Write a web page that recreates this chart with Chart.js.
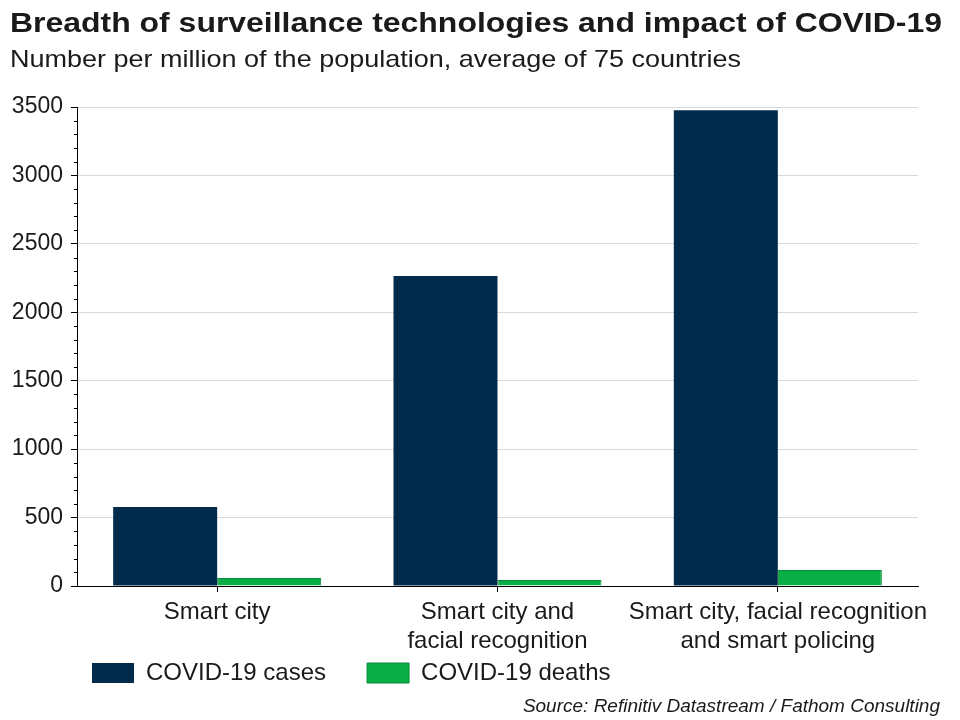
<!DOCTYPE html>
<html>
<head>
<meta charset="utf-8">
<script src="https://cdn.jsdelivr.net/npm/chart.js@4.4.1/dist/chart.umd.min.js"></script>
<style>
  html, body { margin: 0; padding: 0; background: #fff; }
  #wrap { position: relative; width: 960px; height: 720px; overflow: hidden; font-family: "Liberation Sans", Arial, sans-serif; color: #1a1a1a; }
  .txt { position: absolute; white-space: nowrap; line-height: 1; transform-origin: 0 0; }
  #title { left: 10px; top: 9px; font-size: 28px; font-weight: bold; }
  #subtitle { left: 10px; top: 47px; font-size: 24px; }
  #source { right: 20px; top: 696px; font-size: 19px; font-style: italic; }
  #c { position: absolute; left: 0; top: 0; }
</style>
</head>
<body>
<div id="wrap">
  <canvas id="c" width="960" height="720"></canvas>
  <div id="title" class="txt" data-w="932">Breadth of surveillance technologies and impact of COVID-19</div>
  <div id="subtitle" class="txt" data-w="731">Number per million of the population, average of 75 countries</div>
  <div id="source" class="txt">Source: Refinitiv Datastream / Fathom Consulting</div>
</div>
<script>
const categories = [
  ["Smart city"],
  ["Smart city and", "facial recognition"],
  ["Smart city, facial recognition", "and smart policing"]
];
const seriesNames = ["COVID-19 cases", "COVID-19 deaths"];
const casesValues = [577, 2265, 3477];
const deathsValues = [58, 44, 117];
const yTicks = [0, 500, 1000, 1500, 2000, 2500, 3000, 3500];

// the reference headings are horizontally stretched; match their width
document.querySelectorAll('[data-w]').forEach(el => {
  const target = +el.dataset.w;
  const w = el.getBoundingClientRect().width;
  if (w > 0) el.style.transform = 'scaleX(' + (target / w) + ')';
});

const minorTicks = {
  id: 'minorTicks',
  afterDraw(chart) {
    const y = chart.scales.y;
    const ctx = chart.ctx;
    const x0 = chart.chartArea.left;
    ctx.save();
    ctx.strokeStyle = '#000';
    ctx.lineWidth = 1;
    for (let v = 100; v < 3500; v += 100) {
      if (v % 500 === 0) continue;
      const py = Math.round(y.getPixelForValue(v)) + 0.5;
      ctx.beginPath();
      ctx.moveTo(x0 - 3, py);
      ctx.lineTo(x0, py);
      ctx.stroke();
    }
    ctx.restore();
  }
};

// place the legend row under the axis labels, starting at the left like the reference
const legendPlace = {
  id: 'legendPlace',
  afterLayout(chart) {
    const lg = chart.legend;
    if (!lg) return;
    lg.left = 51;
    lg.top = lg.top - 35;
    lg.bottom = lg.bottom - 35;
  }
};

const FONT = "'Liberation Sans', Arial, sans-serif";

new Chart(document.getElementById('c'), {
  type: 'bar',
  data: {
    labels: categories,
    datasets: [
      { label: seriesNames[0], data: casesValues, backgroundColor: '#022b4b', borderColor: '#022b4b', borderWidth: 0 },
      { label: seriesNames[1], data: deathsValues, backgroundColor: '#0aae46', borderColor: '#078a36', borderWidth: 1 }
    ]
  },
  options: {
    responsive: false,
    animation: false,
    devicePixelRatio: 1,
    layout: { padding: { left: 0, right: 42, top: 107, bottom: -10 } },
    datasets: { bar: { categoryPercentage: 0.742, barPercentage: 1.0 } },
    plugins: {
      title: { display: false },
      tooltip: { enabled: false },
      legend: {
        display: true,
        position: 'bottom',
        align: 'start',
        labels: {
          color: '#1a1a1a',
          font: { family: FONT, size: 24 },
          boxWidth: 42,
          boxHeight: 20,
          padding: 41,
          useBorderRadius: false
        }
      }
    },
    scales: {
      x: {
        offset: true,
        grid: { offset: false, drawOnChartArea: false, color: '#000', tickLength: 6, tickColor: '#000' },
        border: { display: true, color: '#000', width: 1 },
        ticks: { color: '#1a1a1a', font: { family: FONT, size: 24, lineHeight: 1.2 }, maxRotation: 0, autoSkip: false, padding: 6 },
        afterFit(scale) { scale.height = 69; }
      },
      y: {
        min: 0,
        max: 3500,
        afterBuildTicks(scale) { scale.ticks = yTicks.map(v => ({ value: v })); },
        grid: { color: '#d9d9d9', tickColor: '#000', tickLength: 6, drawTicks: true },
        border: { display: true, color: '#000', width: 1 },
        ticks: { color: '#1a1a1a', font: { family: FONT, size: 23 }, padding: 8, callback: v => String(v) },
        afterFit(scale) { scale.width = 77; }
      }
    }
  },
  plugins: [minorTicks, legendPlace]
});
</script>
</body>
</html>
